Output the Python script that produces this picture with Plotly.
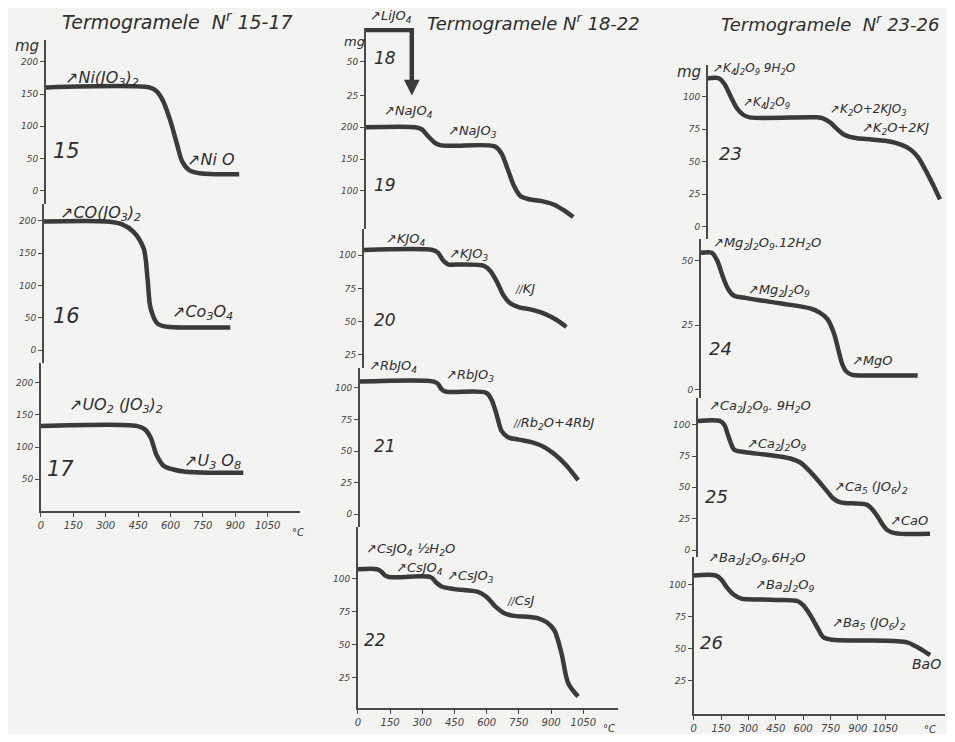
import plotly.graph_objects as go

# ---------------- data (temperature °C, mass mg) ----------------
t15 = [0, 480, 510, 540, 575, 605, 632, 665, 720, 895]
m15 = [160, 160, 155, 141, 110, 75, 45, 32, 27, 26]

t16 = [0, 290, 360, 415, 462, 480, 494, 526, 572, 700, 863]
m16 = [199, 199, 195, 183, 157, 110, 65, 41, 36, 35, 35]

t17 = [0, 443, 480, 508, 535, 568, 614, 660, 800, 937]
m17 = [133, 133, 128, 115, 88, 71, 65, 62, 60, 60]

t18 = [0, 214, 214]
m18 = [73.5, 73.5, 33]

t19 = [0, 230, 260, 290, 320, 345, 400, 600, 630, 660, 690, 720, 760, 820, 880, 930, 966]
m19 = [200, 200, 197, 186, 176, 172, 171, 170, 160, 135, 108, 92, 87, 84, 78, 68, 59]

t20 = [0, 320, 345, 370, 395, 430, 560, 590, 620, 650, 680, 720, 780, 840, 900, 943]
m20 = [104, 104, 102, 96, 93, 93, 92, 88, 80, 70, 64, 61, 59, 56, 51, 46]

t21 = [0, 345, 365, 380, 400, 590, 615, 640, 660, 690, 740, 800, 860, 910, 960, 1017]
m21 = [105, 105, 103, 99, 97, 96, 90, 77, 66, 61, 59, 57, 53, 47, 39, 27]

t22 = [0, 90, 110, 130, 150, 340, 365, 390, 450, 560, 600, 640, 680, 720, 800, 841, 880, 915, 948, 980, 1026]
m22 = [107, 107, 105, 102, 101, 101, 97, 94, 92, 90, 86, 79, 74, 72, 71, 70, 67, 61, 44, 21, 11]

t23 = [0, 60, 90, 126, 160, 195, 230, 600, 635, 672, 710, 744, 780, 820, 900, 1000, 1060, 1110, 1150, 1181, 1230, 1274]
m23 = [114, 114, 110, 100, 91, 86, 84, 84, 83, 80, 75, 71, 69, 68, 67, 65.5, 63, 59.5, 54, 47, 34, 21]

t24 = [0, 60, 90, 120, 150, 180, 250, 330, 450, 600, 650, 694, 730, 760, 776, 800, 830, 900, 1190]
m24 = [53, 53, 50, 44, 39, 36.5, 35.5, 34.6, 33.3, 31.5, 30, 27.5, 22, 14, 10, 7, 5.8, 5.6, 5.6]

t25 = [0, 120, 145, 165, 185, 200, 262, 380, 508, 560, 620, 680, 720, 744, 782, 880, 929, 960, 990, 1015, 1039, 1080, 1274]
m25 = [103, 103, 100, 92, 84, 80, 78, 76, 73, 70, 62, 52, 45, 41, 38, 37, 36, 32, 26, 20, 16, 13.5, 13]

t26 = [0, 120, 150, 180, 220, 260, 300, 450, 569, 600, 640, 680, 711, 760, 900, 1100, 1170, 1230, 1296]
m26 = [107, 107, 104, 98, 92, 89, 88.5, 88, 87, 84, 76, 66, 59, 57, 56.5, 56, 55, 51, 45]

x_ticks = [0, 150, 300, 450, 600, 750, 900, 1050]
y_ticks_15 = [0, 50, 100, 150, 200]
y_ticks_16 = [0, 50, 100, 150, 200]
y_ticks_17 = [50, 100, 150, 200]
y_ticks_18 = [25, 50]
y_ticks_19 = [100, 150, 200]
y_ticks_20 = [25, 50, 75, 100]
y_ticks_21 = [0, 25, 50, 75, 100]
y_ticks_22 = [25, 50, 75, 100]
y_ticks_23 = [0, 25, 50, 75, 100]
y_ticks_24 = [0, 25, 50]
y_ticks_25 = [0, 25, 50, 75, 100]
y_ticks_26 = [25, 50, 75, 100]

# ---------------- layout geometry (page pixels) ----------------
OX, OY = 8, 8            # page body margin
W, H = 939, 726          # figure size so that it fits the 955x742 window
INK = "#3a3a3a"
AX = "#4a4a4a"
FONT = "DejaVu Sans"

def fx(x):
    return min(max((x - OX) / W, 0), 1)

def fy(y):
    return min(max(1 - (y - OY) / H, 0), 1)

# column: (x-axis end px, px per °C)
cols = {1: (298, 32.5 / 150), 2: (617, 32.3 / 150), 3: (945, 192 / 1050)}

# panel: (column, axis x px, top px, bottom px, zero px, px per mg, ticks, t, m, bottom?)
panels = [
    (1, 43, 40, 205, 192, 0.65, y_ticks_15, t15, m15, False),
    (1, 41, 205, 365, 352, 0.65, y_ticks_16, t16, m16, False),
    (1, 38, 365, 514, 514, 0.645, y_ticks_17, t17, m17, True),
    (2, 364, 28, 118, 130, 1.36, y_ticks_18, t18, m18, False),
    (2, 364, 118, 230, 256, 0.64, y_ticks_19, t19, m19, False),
    (2, 362, 230, 370, 390, 1.333, y_ticks_20, t20, m20, False),
    (2, 358, 370, 530, 517, 1.27, y_ticks_21, t21, m21, False),
    (2, 356, 530, 712, 715, 1.333, y_ticks_22, t22, m22, True),
    (3, 707, 65, 240, 228, 1.31, y_ticks_23, t23, m23, False),
    (3, 700, 240, 400, 392, 2.6, y_ticks_24, t24, m24, False),
    (3, 697, 400, 560, 553, 1.26, y_ticks_25, t25, m25, False),
    (3, 693, 560, 718, 717, 1.293, y_ticks_26, t26, m26, True),
]

fig = go.Figure()
layout = {}
for i, (c, a0, ytop, ybot, y0, k, yt, t, m, bottom) in enumerate(panels, start=1):
    xend, s = cols[c]
    sx = "" if i == 1 else str(i)
    shape = "linear" if i == 4 else "spline"
    fig.add_trace(go.Scatter(
        x=t, y=m, mode="lines", xaxis="x" + sx, yaxis="y" + sx,
        line=dict(color=INK, width=4.5, shape=shape, smoothing=0.9),
        cliponaxis=False, showlegend=False, hoverinfo="skip"))
    layout["xaxis" + sx] = dict(
        domain=[fx(a0), fx(xend)], range=[0, (xend - a0) / s], anchor="y" + sx,
        showgrid=False, zeroline=False, visible=bottom,
        showline=bottom, linecolor=AX, linewidth=1.6,
        ticks="outside", ticklen=4, tickcolor=AX, tickwidth=1.2,
        tickvals=x_ticks, ticktext=[str(v) for v in x_ticks],
        tickfont=dict(family=FONT, size=10, color="#444", style="italic"))
    layout["yaxis" + sx] = dict(
        domain=[fy(ybot), fy(ytop)],
        range=[(y0 - ybot) / k, (y0 - ytop) / k], anchor="x" + sx,
        showgrid=False, zeroline=False, showline=True, linecolor=AX,
        linewidth=1.6, ticks="outside", ticklen=4, tickcolor=AX,
        tickwidth=1.2, tickvals=yt, ticktext=[str(v) for v in yt],
        tickfont=dict(family=FONT, size=9, color="#444", style="italic"))

fig.update_layout(**layout)

anns = []

def txt(x, y, s, size=14, anchor="left"):
    anns.append(dict(x=fx(x), y=fy(y), xref="paper", yref="paper", text=s,
                     showarrow=False, xanchor=anchor, yanchor="middle",
                     font=dict(family=FONT, size=size, color="#2e2e2e", style="italic")))

H_ = "↗"
# titles
txt(175, 21, "Termogramele  N<sup>r</sup> 15-17", 19, "center")
txt(532, 22, "Termogramele N<sup>r</sup> 18-22", 18, "center")
txt(830, 23, "Termogramele  N<sup>r</sup> 23-26", 18, "center")
# unit labels
txt(10, 46, "mg", 15)
txt(340, 42, "mg", 13)
txt(674, 72, "mg", 15)
for x0, y0_ in [(288, 535), (600, 732), (922, 733)]:
    txt(x0, y0_, "°C", 10)
# column 1
txt(60, 79, H_ + "Ni(JO<sub>3</sub>)<sub>2</sub>", 16)
txt(183, 160, H_ + "Ni O", 16)
txt(48, 152, "15", 21)
txt(55, 215, H_ + "CO(JO<sub>3</sub>)<sub>2</sub>", 16)
txt(168, 314, H_ + "Co<sub>3</sub>O<sub>4</sub>", 16)
txt(48, 318, "16", 21)
txt(64, 408, H_ + "UO<sub>2</sub> (JO<sub>3</sub>)<sub>2</sub>", 16)
txt(180, 464, H_ + "U<sub>3</sub> O<sub>8</sub>", 16)
txt(42, 472, "17", 21)
# column 2
txt(366, 17, H_ + "LiJO<sub>4</sub>", 13)
txt(370, 58, "18", 17)
txt(380, 112, H_ + "NaJO<sub>4</sub>", 13)
txt(444, 132, H_ + "NaJO<sub>3</sub>", 13)
txt(370, 186, "19", 17)
txt(382, 241, H_ + "KJO<sub>4</sub>", 13)
txt(445, 256, H_ + "KJO<sub>3</sub>", 13)
txt(512, 290, "<span style='font-size:10px'>//</span>KJ", 13)
txt(370, 322, "20", 17)
txt(365, 368, H_ + "RbJO<sub>4</sub>", 13)
txt(442, 378, H_ + "RbJO<sub>3</sub>", 13)
txt(510, 426, "<span style='font-size:10px'>//</span>Rb<sub>2</sub>O+4RbJ", 13)
txt(370, 448, "21", 17)
txt(362, 552, H_ + "CsJO<sub>4</sub> ½H<sub>2</sub>O", 13)
txt(392, 572, H_ + "CsJO<sub>4</sub>", 13)
txt(443, 580, H_ + "CsJO<sub>3</sub>", 13)
txt(504, 604, "<span style='font-size:10px'>//</span>CsJ", 13)
txt(360, 644, "22", 17)
# column 3
txt(710, 69, H_ + "K<sub>4</sub>J<sub>2</sub>O<sub>9</sub> 9H<sub>2</sub>O", 12)
txt(740, 104, H_ + "K<sub>4</sub>J<sub>2</sub>O<sub>9</sub>", 12)
txt(828, 111, H_ + "K<sub>2</sub>O+2KJO<sub>3</sub>", 12)
txt(860, 129, H_ + "K<sub>2</sub>O+2KJ", 13)
txt(716, 154, "23", 18)
txt(710, 245, H_ + "Mg<sub>2</sub>J<sub>2</sub>O<sub>9</sub>.12H<sub>2</sub>O", 13)
txt(745, 292, H_ + "Mg<sub>2</sub>J<sub>2</sub>O<sub>9</sub>", 13)
txt(850, 362, H_ + "MgO", 13)
txt(706, 350, "24", 18)
txt(706, 409, H_ + "Ca<sub>2</sub>J<sub>2</sub>O<sub>9</sub>. 9H<sub>2</sub>O", 13)
txt(744, 447, H_ + "Ca<sub>2</sub>J<sub>2</sub>O<sub>9</sub>", 13)
txt(832, 490, H_ + "Ca<sub>5</sub> (JO<sub>6</sub>)<sub>2</sub>", 13)
txt(888, 523, H_ + "CaO", 13)
txt(702, 499, "25", 18)
txt(705, 562, H_ + "Ba<sub>2</sub>J<sub>2</sub>O<sub>9</sub>.6H<sub>2</sub>O", 13)
txt(752, 589, H_ + "Ba<sub>2</sub>J<sub>2</sub>O<sub>9</sub>", 13)
txt(830, 627, H_ + "Ba<sub>5</sub> (JO<sub>6</sub>)<sub>2</sub>", 13)
txt(910, 668, "BaO", 14)
txt(697, 646, "26", 18)

# arrow of thermogram 18
anns.append(dict(x=214, y=25, ax=214, ay=36, xref="x4", yref="y4", axref="x4",
                 ayref="y4", showarrow=True, arrowhead=2, arrowsize=0.9,
                 arrowwidth=3.5, arrowcolor=INK, text=""))

fig.update_layout(
    annotations=anns, width=W, height=H,
    margin=dict(l=0, r=0, t=0, b=0),
    paper_bgcolor="#f3f3f1", plot_bgcolor="rgba(0,0,0,0)",
    font=dict(family=FONT, color="#333"))

fig.write_html("out.html")
